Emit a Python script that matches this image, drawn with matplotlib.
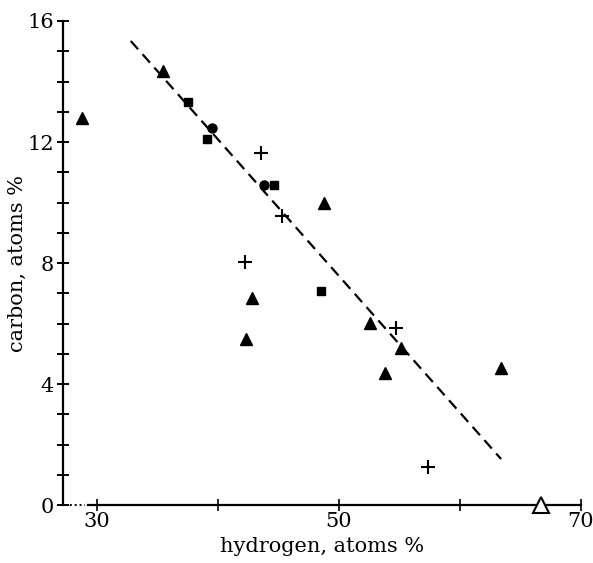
import numpy as np
import matplotlib
matplotlib.use("Agg")
import matplotlib.pyplot as plt

plt.rcParams["font.family"] = "DejaVu Serif"

# data (hydrogen %, carbon %)
tri_x = [28.8, 35.5, 48.8, 42.8, 42.3, 52.6, 55.1, 53.8, 63.4]
tri_y = [12.8, 14.35, 10.0, 6.84, 5.49, 6.02, 5.19, 4.36, 4.53]
sq_x = [37.55, 39.13, 44.61, 48.51]
sq_y = [13.32, 12.10, 10.58, 7.07]
circ_x = [39.54, 43.78]
circ_y = [12.46, 10.58]
plus_x = [43.53, 45.27, 42.20, 54.73, 57.39]
plus_y = [11.64, 9.55, 8.03, 5.85, 1.26]
open_x = [66.7]
open_y = [0.0]
fit_x = [32.8, 63.4]
fit_y = [15.34, 1.52]

yticks = [0, 4, 8, 12, 16]
xticks = [30, 40, 50, 60, 70]
xticklabels = ['30', '', '50', '', '70']

fig = plt.figure(figsize=(5.93, 5.63), dpi=100)
ax = fig.add_axes([0.1062, 0.103, 0.8735, 0.8597])

ax.plot(fit_x, fit_y, color='black', lw=1.6, dashes=(5, 3))
ax.plot(tri_x, tri_y, '^', color='black', ms=8.5, ls='none')
ax.plot(sq_x, sq_y, 's', color='black', ms=6, ls='none')
ax.plot(circ_x, circ_y, 'o', color='black', ms=6.5, ls='none')
ax.plot(plus_x, plus_y, '+', color='black', ms=10.5, mew=1.5, ls='none')
ax.plot(open_x, open_y, '^', mfc='white', mec='black', ms=12, mew=1.5,
        ls='none', clip_on=False, zorder=5)

ax.set_xlim(27.2, 70)
ax.set_ylim(0, 16)

for s in ['top', 'right']:
    ax.spines[s].set_visible(False)
ax.spines['left'].set_linewidth(1.6)
ax.spines['bottom'].set_linewidth(1.6)
ax.spines['bottom'].set_bounds(29.3, 70)
# dotted stub between the y axis and the broken x axis
ax.plot([27.4, 29.0], [0, 0], color='black', lw=1.4, ls=(0, (1, 1.5)), clip_on=False)

ax.set_yticks(yticks)
ax.set_yticks(np.arange(0, 17, 1), minor=True)
ax.set_xticks(xticks)
ax.set_xticklabels(xticklabels)
ax.tick_params(axis='y', which='both', direction='inout', length=9, width=1.4,
               labelsize=15, pad=2)
ax.tick_params(axis='x', which='both', direction='inout', length=8, width=1.2,
               labelsize=15, pad=1)

ax.set_xlabel('hydrogen, atoms %', fontsize=15, labelpad=4)
ax.set_ylabel('carbon, atoms %', fontsize=15, labelpad=0)

fig.savefig('out.png', dpi=100)
